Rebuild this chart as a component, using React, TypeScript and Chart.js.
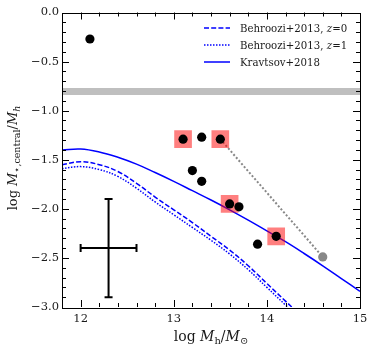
import React, { useEffect, useRef } from "react";
import { Chart, registerables } from "chart.js";

Chart.register(...registerables);

// ---- data ----
const galaxyLogMh = [12.1, 13.1, 13.3, 13.5, 13.2, 13.3, 13.6, 13.7, 13.9, 14.1];
const galaxyRatio = [-0.27, -1.29, -1.27, -1.29, -1.61, -1.72, -1.95, -1.98, -2.36, -2.28];

const flaggedLogMh = [13.1, 13.5, 13.6, 14.1];
const flaggedRatio = [-1.29, -1.29, -1.95, -2.28];

const shiftedLogMh = [13.5, 14.6];
const shiftedRatio = [-1.29, -2.49];

const bandLogMh = [11.8, 15];
const bandUpper = [-0.77, -0.77];
const bandLower = [-0.84, -0.84];

const behrooziZ0LogMh = [11.8, 12.0, 12.2, 12.4, 12.6, 12.8, 13.0, 13.2, 13.4, 13.6, 13.8, 14.0, 14.2, 14.4];
const behrooziZ0Ratio = [-1.55, -1.52, -1.55, -1.62, -1.74, -1.88, -2.01, -2.14, -2.28, -2.42, -2.58, -2.76, -2.94, -3.12];

const behrooziZ1LogMh = [11.8, 12.0, 12.2, 12.4, 12.6, 12.8, 13.0, 13.2, 13.4, 13.6, 13.8, 14.0, 14.2, 14.4];
const behrooziZ1Ratio = [-1.59, -1.57, -1.60, -1.67, -1.79, -1.93, -2.06, -2.19, -2.32, -2.46, -2.62, -2.80, -2.98, -3.16];

const kravtsovLogMh = [11.8, 12.0, 12.2, 12.4, 12.6, 12.8, 13.0, 13.2, 13.4, 13.6, 13.8, 14.0, 14.2, 14.4, 14.6, 14.8, 15.0];
const kravtsovRatio = [-1.40, -1.39, -1.42, -1.475, -1.545, -1.63, -1.72, -1.815, -1.91, -2.01, -2.115, -2.225, -2.335, -2.455, -2.58, -2.71, -2.84];

const errorBarCenterX = [12.3];
const errorBarCenterY = [-2.4];
const errorBarHalfX = [0.3];
const errorBarHalfY = [0.5];

const xTickValues = [12, 13, 14, 15];
const yTickValues = [-3.0, -2.5, -2.0, -1.5, -1.0, -0.5, 0.0];

const legendLabels = ["Behroozi+2013, ", "Behroozi+2013, ", "Kravtsov+2018"];
const legendSuffix = ["=0", "=1", ""];

const SERIF = "'DejaVu Serif', 'Liberation Serif', serif";
const BLUE = "#0000ff";
const INK = "#1a1a1a";

const toXY = (xs: number[], ys: number[]) => xs.map((x, i) => ({ x, y: ys[i] }));

type Part = { t: string; font: string; dy?: number };

function measureRich(ctx: CanvasRenderingContext2D, parts: Part[]) {
  let total = 0;
  for (const p of parts) {
    ctx.font = p.font;
    total += ctx.measureText(p.t).width;
  }
  return total;
}

function drawRich(ctx: CanvasRenderingContext2D, parts: Part[], x: number, y: number) {
  let cx = x;
  for (const p of parts) {
    ctx.font = p.font;
    ctx.fillText(p.t, cx, y + (p.dy || 0));
    cx += ctx.measureText(p.t).width;
  }
}

const decor = {
  id: "decor",
  afterDatasetsDraw(chart: any) {
    const ctx: CanvasRenderingContext2D = chart.ctx;
    const xs = chart.scales.x;
    const ys = chart.scales.y;
    ctx.save();
    ctx.strokeStyle = "#000";
    ctx.lineWidth = 2;
    for (let i = 0; i < errorBarCenterX.length; i++) {
      const cx = xs.getPixelForValue(errorBarCenterX[i]);
      const cy = ys.getPixelForValue(errorBarCenterY[i]);
      const x0 = xs.getPixelForValue(errorBarCenterX[i] - errorBarHalfX[i]);
      const x1 = xs.getPixelForValue(errorBarCenterX[i] + errorBarHalfX[i]);
      const y0 = ys.getPixelForValue(errorBarCenterY[i] + errorBarHalfY[i]);
      const y1 = ys.getPixelForValue(errorBarCenterY[i] - errorBarHalfY[i]);
      const cap = 4;
      ctx.beginPath();
      ctx.moveTo(x0, cy); ctx.lineTo(x1, cy);
      ctx.moveTo(cx, y0); ctx.lineTo(cx, y1);
      ctx.moveTo(x0, cy - cap); ctx.lineTo(x0, cy + cap);
      ctx.moveTo(x1, cy - cap); ctx.lineTo(x1, cy + cap);
      ctx.moveTo(cx - cap, y0); ctx.lineTo(cx + cap, y0);
      ctx.moveTo(cx - cap, y1); ctx.lineTo(cx + cap, y1);
      ctx.stroke();
    }
    ctx.restore();
  },
  afterDraw(chart: any) {
    const ctx: CanvasRenderingContext2D = chart.ctx;
    const a = chart.chartArea;
    const xs = chart.scales.x;
    const ys = chart.scales.y;
    ctx.save();
    // frame
    ctx.strokeStyle = "#000";
    ctx.lineWidth = 1;
    ctx.strokeRect(Math.round(a.left) + 0.5, Math.round(a.top) + 0.5, Math.round(a.right - a.left), Math.round(a.bottom - a.top));
    // ticks (inward, all four sides)
    const MAJ = 7, MIN = 4;
    ctx.beginPath();
    for (let k = 1; k < 16; k++) {
      const v = 11.8 + k * 0.2;
      const isMaj = xTickValues.some((t) => Math.abs(t - v) < 1e-6);
      const px = Math.round(xs.getPixelForValue(v)) + 0.5;
      const L = isMaj ? MAJ : MIN;
      ctx.moveTo(px, a.bottom); ctx.lineTo(px, a.bottom - L);
      ctx.moveTo(px, a.top); ctx.lineTo(px, a.top + L);
    }
    for (let k = 1; k < 30; k++) {
      const v = -3 + k * 0.1;
      const isMaj = yTickValues.some((t) => Math.abs(t - v) < 1e-6);
      const py = Math.round(ys.getPixelForValue(v)) + 0.5;
      const L = isMaj ? MAJ : MIN;
      ctx.moveTo(a.left, py); ctx.lineTo(a.left + L, py);
      ctx.moveTo(a.right, py); ctx.lineTo(a.right - L, py);
    }
    ctx.stroke();

    // legend
    const lx0 = 204, lx1 = 230, tx = 240;
    const rows = [28, 45, 62];
    const dashes = [[5, 2.2], [1.5, 1.5], []];
    for (let i = 0; i < 3; i++) {
      ctx.beginPath();
      ctx.strokeStyle = BLUE;
      ctx.lineWidth = 1.5;
      ctx.setLineDash(dashes[i]);
      ctx.moveTo(lx0, rows[i]); ctx.lineTo(lx1, rows[i]);
      ctx.stroke();
      ctx.setLineDash([]);
      ctx.fillStyle = INK;
      ctx.textBaseline = "alphabetic";
      ctx.textAlign = "left";
      const parts: Part[] = [{ t: legendLabels[i], font: `10.2px ${SERIF}` }];
      if (legendSuffix[i]) {
        parts.push({ t: "z", font: `italic 10.2px ${SERIF}` });
        parts.push({ t: legendSuffix[i], font: `10.2px ${SERIF}` });
      }
      drawRich(ctx, parts, tx, rows[i] + 4);
    }

    // x title
    ctx.fillStyle = INK;
    const xParts: Part[] = [
      { t: "log ", font: `14px ${SERIF}` },
      { t: "M", font: `italic 14px ${SERIF}` },
      { t: "h", font: `10px ${SERIF}`, dy: 3 },
      { t: "/", font: `14px ${SERIF}` },
      { t: "M", font: `italic 14px ${SERIF}` },
      { t: "\u2299", font: `10px ${SERIF}`, dy: 3 },
    ];
    const xw = measureRich(ctx, xParts);
    drawRich(ctx, xParts, (a.left + a.right) / 2 - xw / 2, 341);

    // y title
    const yParts: Part[] = [
      { t: "log ", font: `13px ${SERIF}` },
      { t: "M", font: `italic 13px ${SERIF}` },
      { t: "\u22c6,central", font: `9.5px ${SERIF}`, dy: 3 },
      { t: "/", font: `13px ${SERIF}` },
      { t: "M", font: `italic 13px ${SERIF}` },
      { t: "h", font: `italic 9.5px ${SERIF}`, dy: 3 },
    ];
    const yw = measureRich(ctx, yParts);
    ctx.translate(17, 158);
    ctx.rotate(-Math.PI / 2);
    drawRich(ctx, yParts, -yw / 2, 0);
    ctx.restore();
  },
};

export default function App() {
  const ref = useRef<HTMLCanvasElement | null>(null);
  useEffect(() => {
    if (!ref.current) return;
    const chart = new Chart(ref.current, {
      type: "scatter",
      data: {
        datasets: [
          {
            label: "galaxies",
            data: toXY(galaxyLogMh, galaxyRatio),
            backgroundColor: "#000",
            borderWidth: 0,
            pointRadius: 4.6,
            order: 0,
          } as any,
          {
            label: "shifted",
            data: toXY(shiftedLogMh.slice(1), shiftedRatio.slice(1)),
            backgroundColor: "#888888",
            borderWidth: 0,
            pointRadius: 4.6,
            order: 1,
          },
          {
            label: "flagged",
            data: toXY(flaggedLogMh, flaggedRatio),
            backgroundColor: "rgba(255,0,0,0.5)",
            borderWidth: 0,
            pointStyle: "rect",
            pointRadius: 12.5,
            order: 2,
          },
          {
            label: "shift line",
            data: toXY(shiftedLogMh, shiftedRatio),
            showLine: true,
            borderColor: "#888888",
            borderWidth: 2,
            borderDash: [2, 2],
            pointRadius: 0,
            order: 3,
          },
          {
            label: "Kravtsov+2018",
            data: toXY(kravtsovLogMh, kravtsovRatio),
            showLine: true,
            borderColor: BLUE,
            borderWidth: 1.5,
            pointRadius: 0,
            tension: 0.4,
            order: 4,
          },
          {
            label: "Behroozi+2013, z=0",
            data: toXY(behrooziZ0LogMh, behrooziZ0Ratio),
            showLine: true,
            borderColor: BLUE,
            borderWidth: 1.5,
            borderDash: [5, 2.2],
            pointRadius: 0,
            tension: 0.4,
            order: 5,
          },
          {
            label: "Behroozi+2013, z=1",
            data: toXY(behrooziZ1LogMh, behrooziZ1Ratio),
            showLine: true,
            borderColor: BLUE,
            borderWidth: 1.5,
            borderDash: [1.5, 1.5],
            pointRadius: 0,
            tension: 0.4,
            order: 6,
          },
          {
            label: "band upper",
            data: toXY(bandLogMh, bandUpper),
            showLine: true,
            borderWidth: 0,
            borderColor: "rgba(0,0,0,0)",
            backgroundColor: "rgba(128,128,128,0.5)",
            fill: "+1",
            pointRadius: 0,
            order: 7,
          },
          {
            label: "band lower",
            data: toXY(bandLogMh, bandLower),
            showLine: true,
            borderWidth: 0,
            borderColor: "rgba(0,0,0,0)",
            pointRadius: 0,
            order: 8,
          },
        ],
      },
      options: {
        animation: false,
        responsive: false,
        devicePixelRatio: 1,
        layout: { padding: { top: 12, right: 14, left: 0, bottom: 0 } },
        plugins: { legend: { display: false }, tooltip: { enabled: false } },
        events: [],
        scales: {
          x: {
            type: "linear",
            min: 11.8,
            max: 15,
            grid: { display: false, drawTicks: false },
            border: { display: false },
            afterBuildTicks: (s: any) => {
              s.ticks = xTickValues.map((v) => ({ value: v }));
            },
            afterFit: (s: any) => {
              s.height = 45;
            },
            ticks: {
              padding: 5,
              color: INK,
              font: { family: SERIF, size: 11.5 },
              callback: (v: any) => String(v),
            },
          },
          y: {
            type: "linear",
            min: -3,
            max: 0,
            grid: { display: false, drawTicks: false },
            border: { display: false },
            afterBuildTicks: (s: any) => {
              s.ticks = yTickValues.map((v) => ({ value: v }));
            },
            afterFit: (s: any) => {
              s.width = 62;
            },
            ticks: {
              padding: 3,
              color: INK,
              font: { family: SERIF, size: 11.5 },
              callback: (v: any) => Number(v).toFixed(1).replace("-", "\u2212"),
            },
          },
        },
      },
      plugins: [decor],
    } as any);
    return () => chart.destroy();
  }, []);
  return (
    <div style={{ position: "absolute", left: 0, top: 0, width: 374, height: 352, background: "#fff" }}>
      <canvas ref={ref} width={374} height={352} style={{ width: 374, height: 352, display: "block" }} />
    </div>
  );
}
